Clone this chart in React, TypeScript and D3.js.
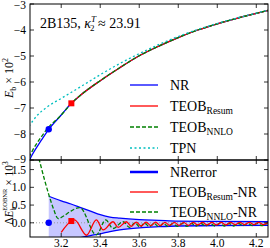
import * as d3 from "d3";

// x axis (shared)
const xTicks = [3.2, 3.4, 3.6, 3.8, 4.0, 4.2];
const yTopTicks = [-3, -4, -5, -6, -7, -8, -9];
const yBotTicks = [1.5, 1.0, 0.5, 0.0];

// top panel: binding energy E_b x 10^2
const nrX = [3.035, 3.05, 3.1, 3.136, 3.2, 3.252, 3.3, 3.4, 3.5, 3.6, 3.7, 3.8, 3.9, 4.0, 4.1, 4.2, 4.26];
const nrY = [-9.05, -8.82, -8.22, -7.82, -7.27, -6.82, -6.5, -5.95, -5.45, -4.99, -4.62, -4.29, -4.0, -3.76, -3.55, -3.36, -3.25];

const resumX = [3.252, 3.3, 3.4, 3.5, 3.6, 3.7, 3.8, 3.9, 4.0, 4.1, 4.2, 4.26];
const resumY = [-6.82, -6.5, -5.95, -5.45, -4.99, -4.62, -4.29, -4.0, -3.76, -3.55, -3.36, -3.25];

const nnloX = [3.035, 3.054, 3.096, 3.117, 3.15, 3.18, 3.2, 3.252, 3.3, 3.4, 3.5, 3.6, 3.7, 3.8, 3.9, 4.0, 4.1, 4.2, 4.26];
const nnloY = [-8.9, -8.62, -8.13, -7.91, -7.62, -7.42, -7.27, -6.82, -6.5, -5.95, -5.45, -4.99, -4.62, -4.29, -4.0, -3.76, -3.55, -3.36, -3.25];

const tpnX = [3.035, 3.08, 3.13, 3.2, 3.3, 3.4, 3.5, 3.6, 3.7, 3.8, 3.9, 4.0, 4.1, 4.2, 4.26];
const tpnY = [-7.7, -7.26, -6.95, -6.63, -6.18, -5.72, -5.29, -4.91, -4.56, -4.25, -3.98, -3.75, -3.54, -3.35, -3.24];

// bottom panel: differences x 10^3
const errX = [3.136, 3.2, 3.25, 3.3, 3.35, 3.4, 3.45, 3.5, 3.6, 3.7, 3.8, 4.0, 4.26];
const errHi = [0.75, 0.62, 0.53, 0.43, 0.33, 0.23, 0.16, 0.13, 0.09, 0.07, 0.05, 0.04, 0.03];
const errLo = [-0.9, -0.7, -0.55, -0.42, -0.36, -0.31, -0.25, -0.2, -0.14, -0.11, -0.09, -0.08, -0.07];

const dResumX = [3.2, 3.252, 3.268, 3.33, 3.38, 3.415, 3.466, 3.492, 3.534, 3.56, 3.585, 3.61, 3.635, 3.66, 3.684, 3.708, 3.732, 3.756, 3.78, 3.804, 3.828, 3.852, 3.876, 3.9, 3.924, 3.948, 3.972, 3.996, 4.02, 4.044, 4.068, 4.092, 4.116, 4.14, 4.164, 4.188, 4.212, 4.236, 4.26];
const dResumY = [-0.27, 0.05, 0.08, -0.35, 0.08, -0.2, 0.03, -0.13, 0.03, -0.1, 0.02, -0.09, 0.02, -0.08, 0.02, -0.08, 0.01, -0.07, 0.01, -0.07, 0.01, -0.07, 0.01, -0.06, 0.01, -0.06, 0.01, -0.06, 0.01, -0.06, 0.01, -0.05, 0.01, -0.05, 0.01, -0.05, 0.01, -0.05, 0.0];

const dNnloX = [3.06, 3.09, 3.115, 3.136, 3.16, 3.184, 3.215, 3.244, 3.295, 3.38, 3.428, 3.466, 3.517, 3.551, 3.578, 3.603, 3.627, 3.652, 3.676, 3.7, 3.724, 3.748, 3.772, 3.796, 3.82, 3.844, 3.868, 3.892, 3.916, 3.94, 3.964, 3.988, 4.012, 4.036, 4.06, 4.084, 4.108, 4.132, 4.156, 4.18, 4.204, 4.228, 4.252];
const dNnloY = [2.3, 1.72, 1.2, 0.8, 0.4, 0.12, 0.2, 0.31, 0.43, -0.34, 0.08, -0.16, 0.03, -0.13, 0.0, -0.12, -0.01, -0.11, -0.02, -0.11, -0.02, -0.1, -0.02, -0.1, -0.02, -0.1, -0.02, -0.09, -0.02, -0.09, -0.02, -0.09, -0.02, -0.09, -0.02, -0.09, -0.02, -0.08, -0.02, -0.08, -0.02, -0.08, -0.03];

const markX = [3.136, 3.252];
const markTopY = [-7.82, -6.82];
const markBotY = [0.0, 0.05];

const SERIF = "Liberation Serif";

const zip = (xs: number[], ys: number[]) => xs.map((x, i) => [x, ys[i]] as [number, number]);

export default function App() {
  const W = 270, H = 248;
  const left = 30, right = 268;
  const topY0 = 4, split = 160, botY1 = 237;

  const x = d3.scaleLinear().domain([3.04, 4.26]).range([left, right]);
  const yT = d3.scaleLinear().domain([-9, -3]).range([split, topY0]);
  const yB = d3.scaleLinear().domain([-0.4, 1.77]).range([botY1, split]);

  const lineT = d3.line<[number, number]>().x((d) => x(d[0])).y((d) => yT(d[1])).curve(d3.curveMonotoneX);
  const lineB = d3.line<[number, number]>().x((d) => x(d[0])).y((d) => yB(d[1])).curve(d3.curveMonotoneX);
  const band = d3
    .area<number>()
    .x((d, i) => x(errX[i]))
    .y0((d, i) => yB(errLo[i]))
    .y1((d) => yB(d))
    .curve(d3.curveMonotoneX);

  const tk = 4;
  const blue = "#0000ff", red = "#ff0000", green = "#008000", cyan = "#00bfbf";

  const legendTop = [
    { y: 85, color: blue, dash: "none", label: "NR", sub: "" },
    { y: 106, color: red, dash: "none", label: "TEOB", sub: "Resum" },
    { y: 127, color: green, dash: "4,2", label: "TEOB", sub: "NNLO" },
    { y: 148, color: cyan, dash: "2,2.5", label: "TPN", sub: "" },
  ];
  const legendBot = [
    { y: 172, color: blue, dash: "none", w: 2.5, label: "NRerror", sub: "", tail: "" },
    { y: 192, color: red, dash: "none", w: 1.3, label: "TEOB", sub: "Resum", tail: "-NR" },
    { y: 212, color: green, dash: "4,2", w: 1.3, label: "TEOB", sub: "NNLO", tail: "-NR" },
  ];

  return (
    <svg width={W} height={H} style={{ position: "absolute", left: 0, top: 0, background: "#fff" }}>
      <defs>
        <clipPath id="clipTop">
          <rect x={left} y={topY0} width={right - left} height={split - topY0} />
        </clipPath>
        <clipPath id="clipBot">
          <rect x={left} y={split} width={right - left} height={botY1 - split} />
        </clipPath>
      </defs>

      {/* top panel data */}
      <g clipPath="url(#clipTop)" fill="none">
        <path d={lineT(zip(nrX, nrY)) || ""} stroke={blue} strokeWidth={1.3} />
        <path d={lineT(zip(resumX, resumY)) || ""} stroke={red} strokeWidth={1.3} />
        <path d={lineT(zip(nnloX, nnloY)) || ""} stroke={green} strokeWidth={1.3} strokeDasharray="4,2" />
        <path d={lineT(zip(tpnX, tpnY)) || ""} stroke={cyan} strokeWidth={1.3} strokeDasharray="2,2.5" />
        <circle cx={x(markX[0])} cy={yT(markTopY[0])} r={3.2} fill={blue} />
        <rect x={x(markX[1]) - 3} y={yT(markTopY[1]) - 3} width={6} height={6} fill={red} />
      </g>

      {/* bottom panel data */}
      <g clipPath="url(#clipBot)">
        <path d={band(errHi) || ""} fill={blue} fillOpacity={0.22} stroke="none" />
        <path d={lineB(zip(errX, errHi)) || ""} fill="none" stroke={blue} strokeWidth={1.3} />
        <path d={lineB(zip(errX, errLo)) || ""} fill="none" stroke={blue} strokeWidth={1.3} />
        <line x1={left} x2={right} y1={yB(0)} y2={yB(0)} stroke="#999" strokeWidth={1} strokeDasharray="1,2" />
        <path d={lineB(zip(dNnloX, dNnloY)) || ""} fill="none" stroke={green} strokeWidth={1.3} strokeDasharray="4,2" />
        <path d={lineB(zip(dResumX, dResumY)) || ""} fill="none" stroke={red} strokeWidth={1.3} />
        <circle cx={x(markX[0])} cy={yB(markBotY[0])} r={3.2} fill={blue} />
        <rect x={x(markX[1]) - 3} y={yB(markBotY[1]) - 3} width={6} height={6} fill={red} />
      </g>

      {/* frames */}
      <rect x={left} y={topY0} width={right - left} height={split - topY0} fill="none" stroke="#000" strokeWidth={1} />
      <rect x={left} y={split} width={right - left} height={botY1 - split} fill="none" stroke="#000" strokeWidth={1} />

      {/* x ticks */}
      {xTicks.map((t) => (
        <g key={t} stroke="#000" strokeWidth={0.8}>
          <line x1={x(t)} x2={x(t)} y1={topY0} y2={topY0 + tk} />
          <line x1={x(t)} x2={x(t)} y1={split} y2={split - tk} />
          <line x1={x(t)} x2={x(t)} y1={split} y2={split + tk} />
          <line x1={x(t)} x2={x(t)} y1={botY1} y2={botY1 - tk} />
        </g>
      ))}

      <g fontFamily={SERIF}>
        {xTicks.map((t) => (
          <text key={t} x={x(t)} y={246.5} fontSize={11.5} textAnchor="middle">
            {t.toFixed(1)}
          </text>
        ))}

        {/* y tick labels */}
        {yTopTicks.map((t) => (
          <g key={t}>
            <line x1={left} x2={left + tk} y1={yT(t)} y2={yT(t)} stroke="#000" strokeWidth={0.8} />
            <line x1={right} x2={right - tk} y1={yT(t)} y2={yT(t)} stroke="#000" strokeWidth={0.8} />
            <text x={left - 4} y={yT(t) + 3.6 + (t === -3 ? 1 : 0) - (t === -9 ? 0.8 : 0)} fontSize={11.5} textAnchor="end">
              {"\u2212" + Math.abs(t)}
            </text>
          </g>
        ))}
        {yBotTicks.map((t) => (
          <g key={t}>
            <line x1={left} x2={left + tk} y1={yB(t)} y2={yB(t)} stroke="#000" strokeWidth={0.8} />
            <line x1={right} x2={right - tk} y1={yB(t)} y2={yB(t)} stroke="#000" strokeWidth={0.8} />
            <text x={left - 4} y={yB(t) + 4} fontSize={11.5} textAnchor="end">
              {t.toFixed(1)}
            </text>
          </g>
        ))}

        {/* axis labels */}
        <text transform="translate(13,78) rotate(-90)" fontSize={12} textAnchor="middle">
          <tspan fontStyle="italic">E</tspan>
          <tspan fontSize={8} dy={3}>b</tspan>
          <tspan dy={-3}> × 10</tspan>
          <tspan fontSize={8} dy={-5}>2</tspan>
        </text>
        <text transform="translate(13,193) rotate(-90)" fontSize={11.5} textAnchor="middle">
          <tspan>Δ</tspan>
          <tspan fontStyle="italic">E</tspan>
          <tspan fontSize={7.5} dy={3}>b</tspan>
          <tspan fontSize={6.5} dx={-4} dy={-9}>EOBNR</tspan>
          <tspan dy={6}> × 10</tspan>
          <tspan fontSize={7.5} dy={-5}>3</tspan>
        </text>

        {/* title */}
        <text x={40} y={28} fontSize={14}>
          <tspan>2B135, </tspan>
          <tspan fontStyle="italic">κ</tspan>
          <tspan fontSize={9} fontStyle="italic" dy={-6}>T</tspan>
          <tspan fontSize={9} dx={-6} dy={9}>2</tspan>
          <tspan dy={-3}> ≈ 23.91</tspan>
        </text>

        {/* legends */}
        {legendTop.map((l) => (
          <g key={l.label + l.sub}>
            <line x1={130} x2={158} y1={l.y} y2={l.y} stroke={l.color} strokeWidth={1.3} strokeDasharray={l.dash} />
            <text x={170} y={l.y + 4.5} fontSize={14}>
              {l.label}
              {l.sub && (
                <tspan fontSize={9.5} dy={3}>
                  {l.sub}
                </tspan>
              )}
            </text>
          </g>
        ))}
        {legendBot.map((l) => (
          <g key={l.label + l.sub}>
            <line x1={130} x2={158} y1={l.y} y2={l.y} stroke={l.color} strokeWidth={l.w} strokeDasharray={l.dash} />
            <text x={170} y={l.y + 4.5} fontSize={14}>
              {l.label}
              {l.sub && (
                <tspan fontSize={9.5} dy={3}>
                  {l.sub}
                </tspan>
              )}
              {l.tail && <tspan dy={-3}>{l.tail}</tspan>}
            </text>
          </g>
        ))}
      </g>
    </svg>
  );
}
